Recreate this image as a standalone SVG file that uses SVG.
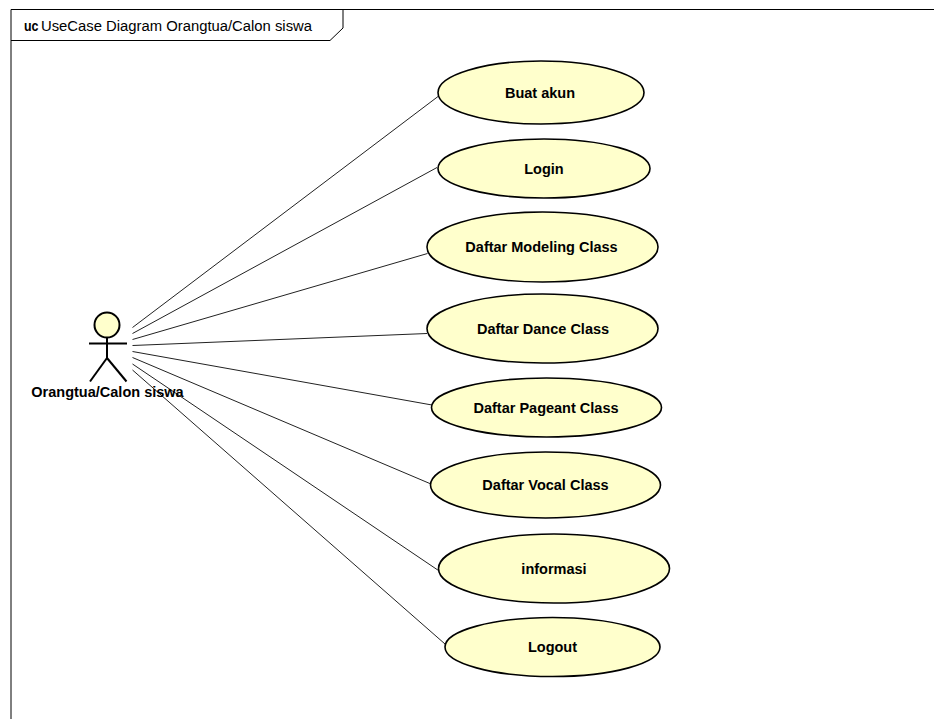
<svg xmlns="http://www.w3.org/2000/svg" width="934" height="719" viewBox="0 0 934 719">
<style>
.uc{fill:#FFFFCC;stroke:#000;stroke-width:1.6}
.lbl{font-family:"Liberation Sans",Arial,sans-serif;font-size:14.5px;font-weight:bold;fill:#000;text-anchor:middle}
.title{font-family:"Liberation Sans",Arial,sans-serif;font-size:14px;fill:#000}
.conn line{stroke:#222;stroke-width:1}
.actor line{stroke:#000;stroke-width:2}
</style>
<rect x="0" y="0" width="934" height="719" fill="#fff"/>
<g id="frame" fill="none" stroke="#000" stroke-width="1">
<path d="M11,719 V9.5 H934"/>
<path d="M11,40.5 H330 L343,28 V9.5"/>
</g>
<text class="title" x="24" y="30.5"><tspan font-weight="bold" textLength="14.5" lengthAdjust="spacingAndGlyphs">uc</tspan><tspan x="41" textLength="271" lengthAdjust="spacingAndGlyphs">UseCase Diagram Orangtua/Calon siswa</tspan></text>
<g id="connectors" class="conn">
<line x1="132.5" y1="327.5" x2="438" y2="96.5"/>
<line x1="132.5" y1="333.5" x2="437" y2="167.5"/>
<line x1="132.5" y1="339.5" x2="427.5" y2="253.5"/>
<line x1="132.5" y1="345.5" x2="427" y2="333.5"/>
<line x1="132.5" y1="351.5" x2="432" y2="405"/>
<line x1="132.5" y1="357.5" x2="431" y2="484"/>
<line x1="132.5" y1="364" x2="438.5" y2="570.5"/>
<line x1="132.5" y1="370" x2="445" y2="644"/>
</g>
<g id="actor" class="actor">
<circle cx="107" cy="325" r="12.5" fill="#FFFFCC" stroke="#000" stroke-width="2"/>
<line x1="107" y1="337.5" x2="107" y2="358"/>
<line x1="89" y1="343.5" x2="127" y2="343.5"/>
<line x1="107" y1="358" x2="90" y2="381.5"/>
<line x1="107" y1="358" x2="126.5" y2="381.5"/>
<text class="lbl" x="107.5" y="397">Orangtua/Calon siswa</text>
</g>
<g id="uc-buat-akun"><ellipse class="uc" cx="541" cy="92.5" rx="103" ry="31.5"/><text class="lbl" x="540" y="97.5">Buat akun</text></g>
<g id="uc-login"><ellipse class="uc" cx="544" cy="168.5" rx="106" ry="29.5"/><text class="lbl" x="544" y="173.5">Login</text></g>
<g id="uc-modeling"><ellipse class="uc" cx="542.5" cy="247" rx="115.5" ry="35"/><text class="lbl" x="541.5" y="252">Daftar Modeling Class</text></g>
<g id="uc-dance"><ellipse class="uc" cx="542.5" cy="328.5" rx="115.5" ry="34.5"/><text class="lbl" x="543" y="333.5">Daftar Dance Class</text></g>
<g id="uc-pageant"><ellipse class="uc" cx="546.5" cy="407.5" rx="115" ry="29.5"/><text class="lbl" x="546" y="412.5">Daftar Pageant Class</text></g>
<g id="uc-vocal"><ellipse class="uc" cx="545.5" cy="485" rx="115" ry="33"/><text class="lbl" x="545.5" y="490">Daftar Vocal Class</text></g>
<g id="uc-informasi"><ellipse class="uc" cx="554" cy="568.5" rx="115.5" ry="34.5"/><text class="lbl" x="554" y="573.5">informasi</text></g>
<g id="uc-logout"><ellipse class="uc" cx="552.5" cy="647" rx="107.5" ry="29.5"/><text class="lbl" x="552.5" y="652">Logout</text></g>
</svg>
